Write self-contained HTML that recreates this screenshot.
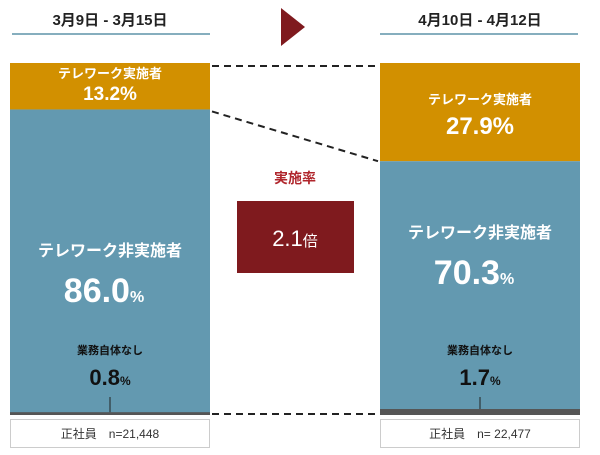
<!DOCTYPE html>
<html><head><meta charset="utf-8"><style>
html,body{margin:0;padding:0;background:#fff;width:600px;height:455px;overflow:hidden}
svg{display:block;font-family:"Liberation Sans","Noto Sans CJK JP",sans-serif}
</style></head><body>
<svg id="c" width="600" height="455">
<text x="110" y="25" text-anchor="middle" font-size="15" font-weight="bold" fill="#222">3月9日 - 3月15日</text>
<line x1="12" y1="34" x2="210" y2="34" stroke="#5f93a8" stroke-width="1.5"/>
<text x="480" y="25" text-anchor="middle" font-size="15" font-weight="bold" fill="#222">4月10日 - 4月12日</text>
<line x1="380" y1="34" x2="578" y2="34" stroke="#5f93a8" stroke-width="1.5"/>
<polygon points="281,8 305,27 281,46" fill="#7f1a1e"/>
<g id="bars"></g>
<text x="295" y="183" text-anchor="middle" font-size="14" font-weight="bold" fill="#b0262c">実施率</text>
<rect x="237" y="201" width="117" height="72" fill="#7f1a1e"/>
<text x="295" y="246" text-anchor="middle" font-size="22" fill="#fff">2.1<tspan font-size="15">倍</tspan></text>
</svg>
<script>
const periods=["3月9日 - 3月15日","4月10日 - 4月12日"];
const teleworkPct=[13.2,27.9];
const nonTeleworkPct=[86.0,70.3];
const noWorkPct=[0.8,1.7];
const sampleLabels=["正社員　n=21,448","正社員　n= 22,477"];
const NS="http://www.w3.org/2000/svg";
const g=document.getElementById('bars');
const top0=63,bot=415,H=bot-top0;
const xs=[10,380],W=200;
function y(p){return top0+p/100*H;}
function mk(t,a){const e=document.createElementNS(NS,t);for(const k in a)e.setAttribute(k,a[k]);g.appendChild(e);return e;}
const orangeBottoms=[];
periods.forEach((p,i)=>{
  const x=xs[i];
  const yo=y(teleworkPct[i]);orangeBottoms.push(yo);
  const yn=y(teleworkPct[i]+nonTeleworkPct[i]);
  let r=mk('rect',{x:x,y:top0,width:W,height:yo-top0,fill:'#d29000'});
  
  
  r=mk('rect',{x:x,y:yo,width:W,height:bot-yo,fill:'#6399b0'});
  
  
  r=mk('rect',{x:x,y:bot-noWorkPct[i]/100*H,width:W,height:noWorkPct[i]/100*H,fill:'#555'});
  
  
  const cx=x+W/2;
  const big=i===1;
  const oy=(top0+yo)/2;
  let t=mk('text',{x:cx,y:big?oy-8:oy-8,'text-anchor':'middle','font-size':13,'font-weight':'bold',fill:'#fff'});t.textContent='テレワーク実施者';
  
  
  t=mk('text',{x:cx,y:big?oy+22:oy+14,'text-anchor':'middle','font-size':big?24:19,'font-weight':'bold',fill:'#fff'});t.textContent=teleworkPct[i].toFixed(1)+'%';
  
  
  const ny=big?238:256;
  t=mk('text',{x:cx,y:ny,'text-anchor':'middle','font-size':16,'font-weight':'bold',fill:'#fff'});t.textContent='テレワーク非実施者';
  
  
  t=mk('text',{x:cx-6,y:ny+46,'text-anchor':'middle','font-size':34,'font-weight':'bold',fill:'#fff'});t.textContent=nonTeleworkPct[i].toFixed(1);
  const s=document.createElementNS(NS,'tspan');s.setAttribute('font-size','16');s.textContent='%';t.appendChild(s);
  
  
  t=mk('text',{x:cx,y:354,'text-anchor':'middle','font-size':11,'font-weight':'bold',fill:'#111'});t.textContent='業務自体なし';
  
  
  t=mk('text',{x:cx,y:385,'text-anchor':'middle','font-size':22,'font-weight':'bold',fill:'#111'});t.textContent=noWorkPct[i].toFixed(1);
  const s2=document.createElementNS(NS,'tspan');s2.setAttribute('font-size','12');s2.textContent='%';t.appendChild(s2);
  
  
  r=mk('line',{x1:cx,y1:397,x2:cx,y2:bot-noWorkPct[i]/100*H,stroke:'#222','stroke-width':1});
  
  
  r=mk('rect',{x:x+0.5,y:419.5,width:W-1,height:28,fill:'#fff',stroke:'#ccc'});
  
  
  t=mk('text',{x:cx,y:438,'text-anchor':'middle','font-size':12,fill:'#333'});t.textContent=sampleLabels[i];
  
  
});
let d=mk('line',{x1:212,y1:66,x2:378,y2:66,stroke:'#222','stroke-width':2,'stroke-dasharray':'7,5'});


d=mk('line',{x1:212,y1:orangeBottoms[0]+2,x2:378,y2:orangeBottoms[1],stroke:'#222','stroke-width':2,'stroke-dasharray':'7,5'});


d=mk('line',{x1:212,y1:414,x2:378,y2:414,stroke:'#222','stroke-width':2,'stroke-dasharray':'7,5'});


</script>
</body></html>
